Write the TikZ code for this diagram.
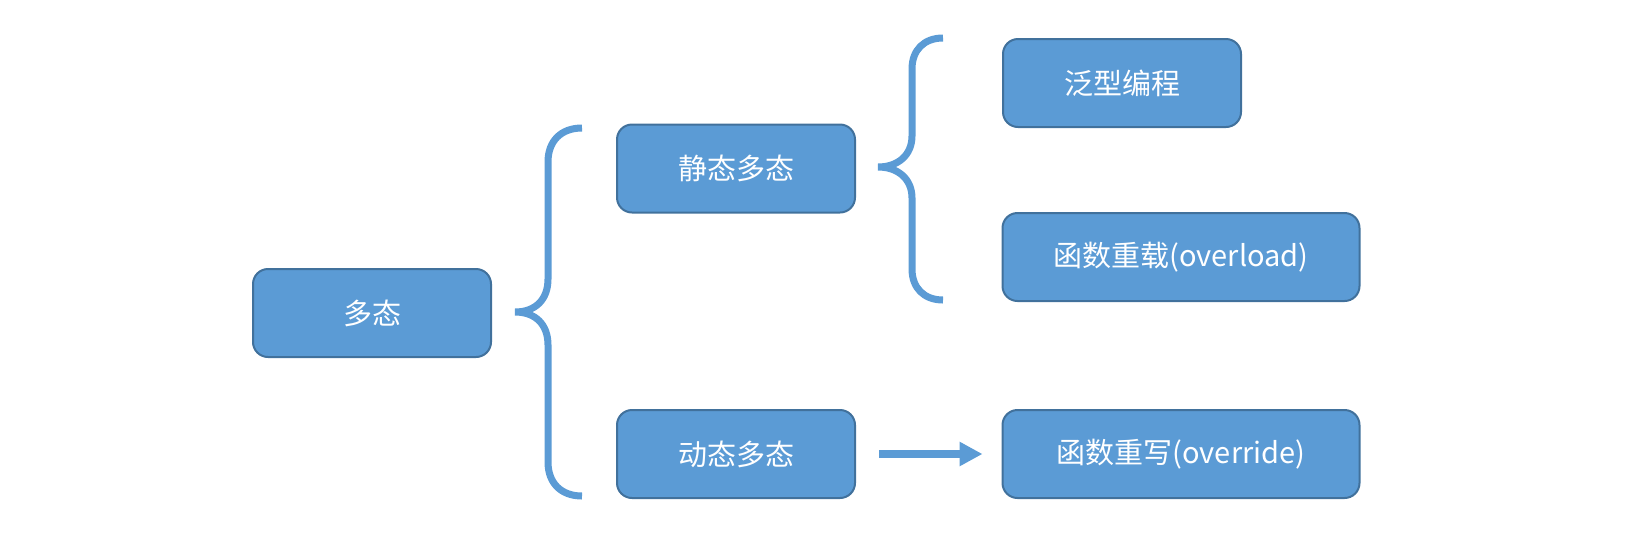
\documentclass[tikz,border=0pt]{standalone}
\usepackage{fontspec}
\setmainfont{Noto Sans CJK SC}
\usetikzlibrary{arrows.meta}
\definecolor{boxfill}{HTML}{5B9BD5}
\definecolor{boxline}{HTML}{41719C}
\tikzset{
  box/.style={draw=boxline, line width=2pt, fill=boxfill, rounded corners=15pt,
    minimum height=88pt, inner sep=0pt, text=white,
    font=\fontsize{29pt}{34pt}\selectfont},
  shortbox/.style={box, minimum width=238pt},
  longbox/.style={box, minimum width=357pt},
  bracestyle/.style={draw=boxfill, line width=7pt},
  arrowstyle/.style={draw=boxfill, line width=8pt, -{Triangle[length=23pt,width=23pt]}}
}
\begin{document}
\begin{tikzpicture}[x=1pt,y=-1pt]
\useasboundingbox (0,0) rectangle (1648,542);
\node[shortbox] (poly) at (372,313) {多态};
\node[shortbox] (static) at (736,168.5) {静态多态};
\node[shortbox] (dyn) at (736,454) {动态多态};
\node[shortbox] (generic) at (1122,83) {泛型编程};
\node[longbox] (overload) at (1181,257) {函数重载(overload)};
\node[longbox] (override) at (1181,454) {函数重写(override)};
% big brace
\draw[bracestyle] (582,128) .. controls (561,128) and (548,141) .. (548,162)
  -- (548,279) .. controls (548,300) and (535,312) .. (515,312)
  .. controls (535,312) and (548,324) .. (548,345)
  -- (548,462) .. controls (548,483) and (561,496) .. (582,496);
% small brace
\draw[bracestyle] (943,38) .. controls (924,38) and (912,50) .. (912,69)
  -- (912,136) .. controls (912,155) and (898,167) .. (878,167)
  .. controls (898,167) and (912,179) .. (912,198)
  -- (912,269) .. controls (912,288) and (924,300) .. (943,300);
% arrow
\draw[arrowstyle, shorten <=23pt, shorten >=19pt] (dyn) -- (override);
\end{tikzpicture}
\end{document}
